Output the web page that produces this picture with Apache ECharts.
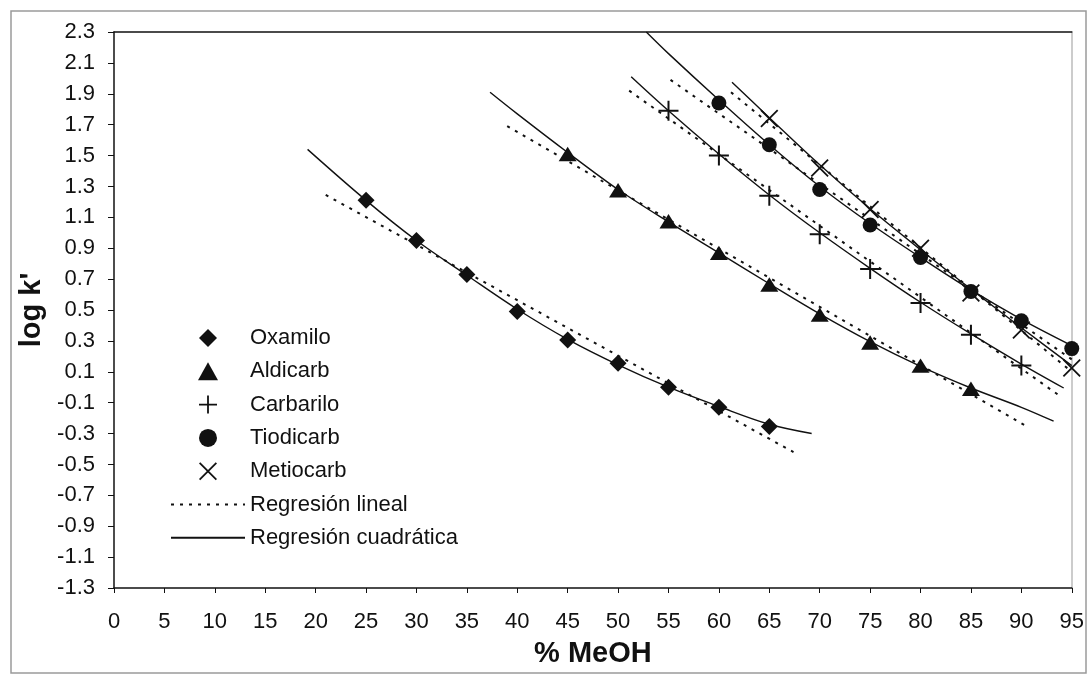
<!DOCTYPE html>
<html>
<head>
<meta charset="utf-8">
<script src="https://cdn.jsdelivr.net/npm/echarts@6/dist/echarts.min.js"></script>
<style>
  html, body { margin: 0; padding: 0; background: #fff; }
  #chart { width: 1087px; height: 675px; }
</style>
</head>
<body>
<div id="chart"></div>
<script>
// % MeOH in the mobile phase and measured log k' for each pesticide
const oxamiloX = [25, 30, 35, 40, 45, 50, 55, 60, 65];
const oxamiloY = [1.21, 0.95, 0.73, 0.49, 0.305, 0.155, 0.0, -0.13, -0.255];
const aldicarbX = [45, 50, 55, 60, 65, 70, 75, 80, 85];
const aldicarbY = [1.51, 1.275, 1.075, 0.87, 0.665, 0.47, 0.29, 0.14, -0.01];
const carbariloX = [55, 60, 65, 70, 75, 80, 85, 90];
const carbariloY = [1.79, 1.50, 1.24, 0.99, 0.765, 0.545, 0.34, 0.14];
const tiodicarbX = [60, 65, 70, 75, 80, 85, 90, 95];
const tiodicarbY = [1.84, 1.57, 1.28, 1.05, 0.84, 0.62, 0.43, 0.25];
const metiocarbX = [65, 70, 75, 80, 85, 90, 95];
const metiocarbY = [1.74, 1.42, 1.15, 0.90, 0.61, 0.37, 0.125];

// linear regression lines: [start, end] as [% MeOH, log k']
const oxamiloLin = [[21.0, 1.245], [67.4, -0.42]];
const aldicarbLin = [[39.0, 1.69], [90.3, -0.245]];
const carbariloLin = [[51.1, 1.92], [94.0, -0.065]];
const tiodicarbLin = [[55.2, 1.99], [95.0, 0.18]];
const metiocarbLin = [[61.2, 1.91], [95.0, 0.10]];

// quadratic regression curves traced as [% MeOH, log k']
const oxamiloQuad = [[19.2, 1.54], [25, 1.21], [30, 0.95], [35, 0.725], [40, 0.505], [45, 0.31], [50, 0.145], [55, 0.0], [60, -0.125], [65, -0.24], [69.2, -0.30]];
const aldicarbQuad = [[37.3, 1.91], [40, 1.77], [45, 1.52], [50, 1.28], [55, 1.07], [60, 0.87], [65, 0.67], [70, 0.475], [75, 0.295], [80, 0.135], [85, -0.005], [90, -0.13], [93.2, -0.22]];
const carbariloQuad = [[51.3, 2.01], [55, 1.79], [60, 1.51], [65, 1.245], [70, 1.0], [75, 0.77], [80, 0.55], [85, 0.345], [90, 0.15], [94.2, -0.005]];
const tiodicarbQuad = [[52.8, 2.3], [55, 2.16], [60, 1.86], [65, 1.57], [70, 1.30], [75, 1.06], [80, 0.84], [85, 0.63], [90, 0.44], [95, 0.27]];
const metiocarbQuad = [[61.3, 1.975], [65, 1.745], [70, 1.44], [75, 1.155], [80, 0.89], [85, 0.635], [90, 0.385], [95, 0.14]];

// axis ranges and ticks
const xMin = 0, xMax = 95, xStep = 5;
const yMin = -1.3, yMax = 2.3, yStep = 0.2;

const seriesNames = ['Oxamilo', 'Aldicarb', 'Carbarilo', 'Tiodicarb', 'Metiocarb'];
const linName = 'Regresión lineal';
const quadName = 'Regresión cuadrática';

const FONT = "'Liberation Sans', Arial, sans-serif";
const INK = '#111';

const SYM_DIAMOND = 'path://M0,-10 L10,0 L0,10 L-10,0 Z';
const SYM_TRIANGLE = 'path://M0,-10 L10,8 L-10,8 Z';
const SYM_PLUS = 'path://M-1,-10 L1,-10 L1,10 L-1,10 Z M-10,-1 L10,-1 L10,1 L-10,1 Z';
const SYM_CROSS = 'path://M-10,-8.6 L-8.6,-10 L10,8.6 L8.6,10 Z M8.6,-10 L10,-8.6 L-8.6,10 L-10,8.6 Z';

const pair = (xs, ys) => xs.map((x, i) => [x, ys[i]]);

function scatter(name, xs, ys, symbol, size) {
  return {
    name, type: 'scatter', data: pair(xs, ys),
    symbol, symbolSize: size, symbolKeepAspect: true,
    itemStyle: { color: INK, opacity: 1 },
    z: 5, silent: true
  };
}
function linLine(pts) {
  return {
    name: linName, type: 'line', data: pts, symbol: 'none',
    itemStyle: { color: INK },
    lineStyle: { color: INK, width: 2, type: [3, 6] }, z: 3, silent: true
  };
}
function quadLine(pts) {
  return {
    name: quadName, type: 'line', data: pts, symbol: 'none', smooth: 0.35,
    itemStyle: { color: INK },
    lineStyle: { color: INK, width: 1.4, type: 'solid' }, z: 4, silent: true
  };
}

// line entries in the legend show only the stroke sample, no point marker
const lineOnly = { opacity: 0, color: 'rgba(0,0,0,0)', borderWidth: 0 };

const tickLabel = { color: INK, fontFamily: FONT, fontSize: 22 };

const option = {
  animation: false,
  backgroundColor: '#fff',
  grid: { left: 114, right: 14, top: 32, bottom: 87, containLabel: false },
  graphic: [{
    type: 'rect', silent: true, z: -1,
    shape: { x: 11, y: 11, width: 1075, height: 662 },
    style: { fill: 'none', stroke: '#9a9a9a', lineWidth: 1.5 }
  }],
  legend: {
    orient: 'vertical', left: 170, top: 327, padding: 0,
    itemWidth: 74, itemHeight: 18, itemGap: 11.3,
    selectedMode: false, symbolKeepAspect: true,
    textStyle: { color: INK, fontFamily: FONT, fontSize: 22, lineHeight: 22 },
    data: [
      ...seriesNames,
      { name: linName, itemStyle: lineOnly },
      { name: quadName, itemStyle: lineOnly }
    ]
  },
  xAxis: [{
    type: 'value', min: xMin, max: xMax, interval: xStep, position: 'bottom',
    name: '% MeOH', nameLocation: 'middle', nameGap: 51,
    nameTextStyle: { color: INK, fontFamily: FONT, fontSize: 29, fontWeight: 'bold' },
    axisLine: { show: true, onZero: false, lineStyle: { color: INK, width: 1.5 } },
    axisTick: { show: true, inside: false, length: 5, lineStyle: { color: INK } },
    axisLabel: Object.assign({ margin: 23 }, tickLabel),
    splitLine: { show: false }
  }, {
    type: 'value', min: xMin, max: xMax, interval: xStep, position: 'top',
    axisLine: { show: true, onZero: false, lineStyle: { color: INK, width: 1.5 } },
    axisTick: { show: false }, axisLabel: { show: false }, splitLine: { show: false }
  }],
  yAxis: [{
    type: 'value', min: yMin, max: yMax, interval: yStep, position: 'left',
    name: "log k'", nameLocation: 'middle', nameGap: 63,
    nameTextStyle: { color: INK, fontFamily: FONT, fontSize: 29, fontWeight: 'bold' },
    axisLine: { show: true, onZero: false, lineStyle: { color: INK, width: 1.5 } },
    axisTick: { show: true, inside: false, length: 6, lineStyle: { color: INK } },
    axisLabel: Object.assign({ margin: 19, formatter: v => v.toFixed(1) }, tickLabel),
    splitLine: { show: false }
  }, {
    type: 'value', min: yMin, max: yMax, interval: yStep, position: 'right',
    axisLine: { show: true, onZero: false, lineStyle: { color: '#bbb', width: 1.5 } },
    axisTick: { show: false }, axisLabel: { show: false }, splitLine: { show: false }
  }],
  series: [
    linLine(oxamiloLin), linLine(aldicarbLin), linLine(carbariloLin),
    linLine(tiodicarbLin), linLine(metiocarbLin),
    quadLine(oxamiloQuad), quadLine(aldicarbQuad), quadLine(carbariloQuad),
    quadLine(tiodicarbQuad), quadLine(metiocarbQuad),
    scatter('Oxamilo', oxamiloX, oxamiloY, SYM_DIAMOND, 17),
    scatter('Aldicarb', aldicarbX, aldicarbY, SYM_TRIANGLE, [18, 16]),
    scatter('Carbarilo', carbariloX, carbariloY, SYM_PLUS, 20),
    scatter('Tiodicarb', tiodicarbX, tiodicarbY, 'circle', 15),
    scatter('Metiocarb', metiocarbX, metiocarbY, SYM_CROSS, 18)
  ]
};

const chart = echarts.init(document.getElementById('chart'), null, { renderer: 'canvas' });
chart.setOption(option);
</script>
</body>
</html>
